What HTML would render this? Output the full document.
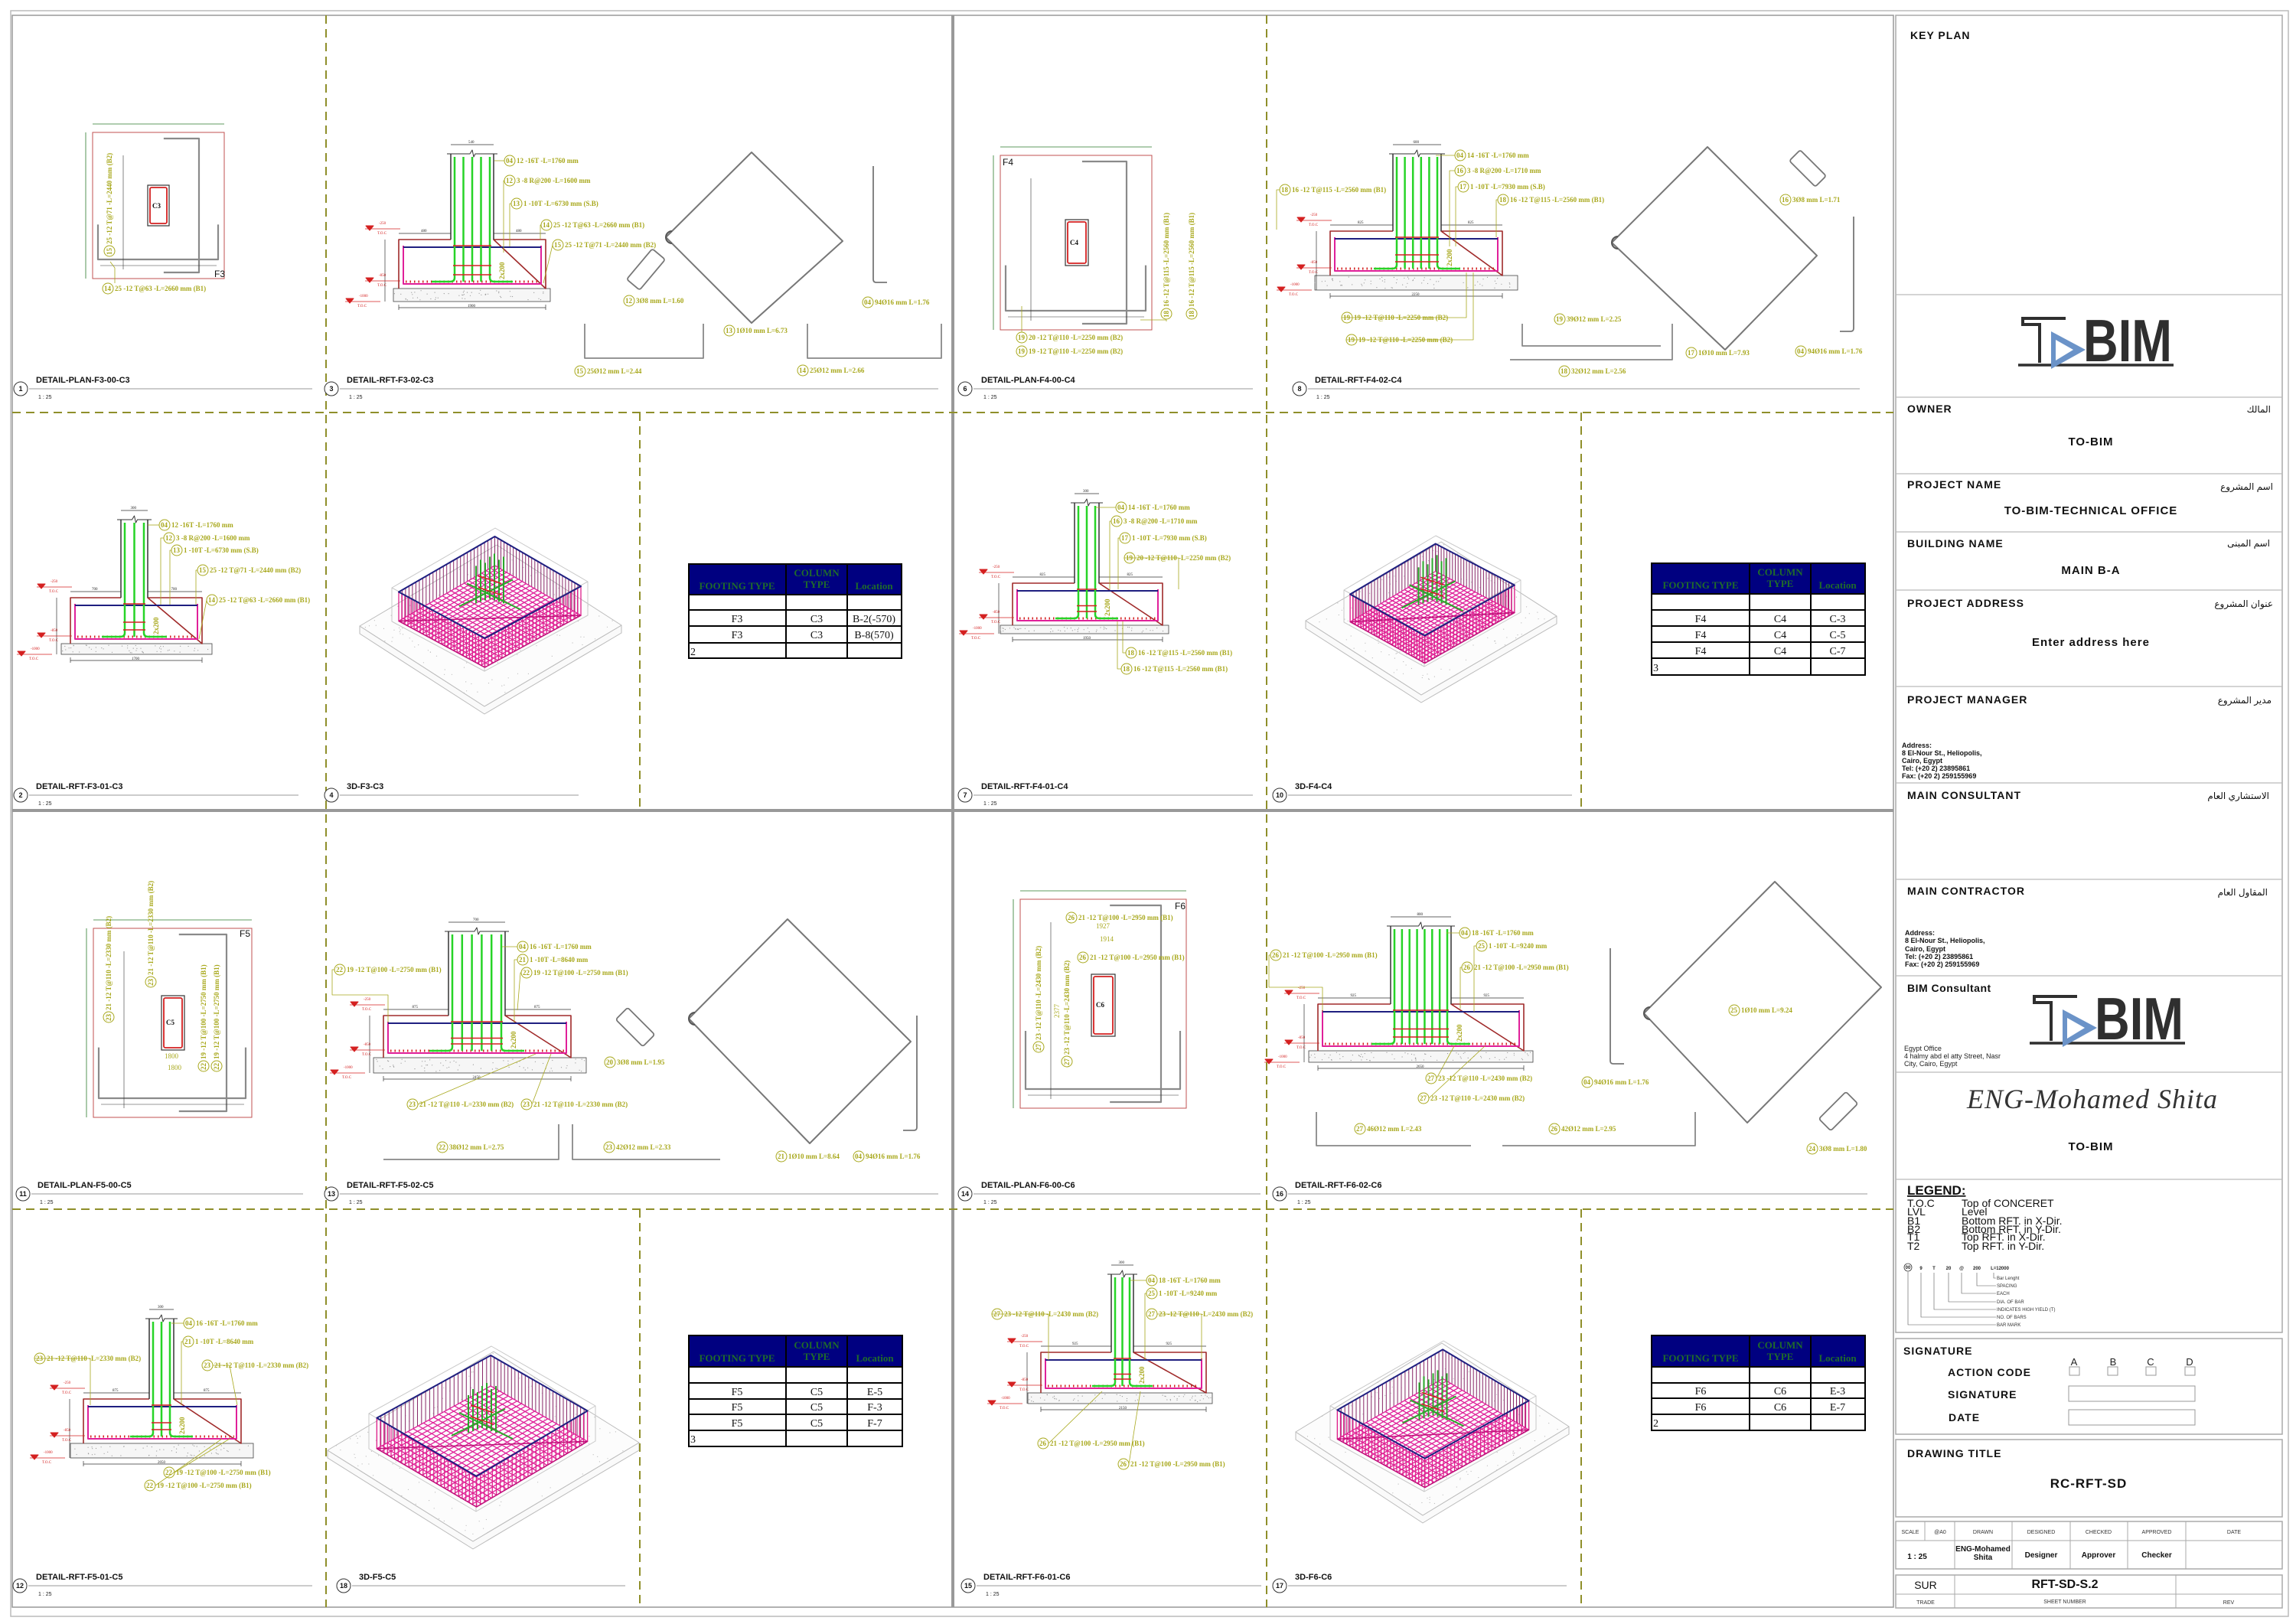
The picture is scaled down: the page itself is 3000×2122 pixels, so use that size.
<!DOCTYPE html>
<html><head><meta charset="utf-8">
<style>
html,body{margin:0;padding:0;background:#fff;}
svg{display:block;}
.lb circle{fill:none;stroke:#a8a81c;stroke-width:1}
.lb text{font:bold 9px "Liberation Serif",serif;fill:#a8a81c}
.pt{font:bold 11px "Liberation Sans",sans-serif;fill:#111}
.pn{font:bold 9px "Liberation Sans",sans-serif;fill:#111}
.sc{font:7px "Liberation Sans",sans-serif;fill:#222}
.th{font:bold 13px "Liberation Serif",serif;fill:#1f6b2a}
.td{font:14px "Liberation Serif",serif;fill:#111}
.h{font:bold 14px "Liberation Sans",sans-serif;fill:#111;letter-spacing:1px}
.ar{font:12px "Liberation Sans","DejaVu Sans",sans-serif;fill:#111}
.v{font:bold 15px "Liberation Sans",sans-serif;fill:#111;letter-spacing:1px}
.ad{font:bold 9px "Liberation Sans",sans-serif;fill:#111}
.lg{font:14px "Liberation Sans",sans-serif;fill:#111}
.tiny{font:6px "Liberation Sans",sans-serif;fill:#333}
.sm{font:8px "Liberation Sans",sans-serif;fill:#444}
.dm{font:5px "Liberation Serif",serif;fill:#222}
.ck{font:bold 9px "Liberation Serif",serif;fill:#111}
</style></head><body>
<svg id="S" width="3000" height="2122" viewBox="0 0 3000 2122" xmlns="http://www.w3.org/2000/svg">
<rect width="3000" height="2122" fill="#fff"/>
<!-- frames -->
<rect x="14" y="14" width="2976" height="2098" fill="none" stroke="#bbb" stroke-width="1.5"/>
<rect x="16" y="20" width="2458" height="2080" fill="none" stroke="#999" stroke-width="1.5"/>
<g id="geo"></g>
<!-- main divisions -->
<line x1="1245" y1="20" x2="1245" y2="2100" stroke="#999" stroke-width="4"/>
<line x1="16" y1="1059" x2="2474" y2="1059" stroke="#999" stroke-width="4"/>
<g stroke="#8f8f2a" stroke-width="2" stroke-dasharray="11 7" fill="none">
<line x1="426" y1="20" x2="426" y2="2100"/>
<line x1="1655" y1="20" x2="1655" y2="2100"/>
<line x1="16" y1="539" x2="2474" y2="539"/>
<line x1="16" y1="1580" x2="2474" y2="1580"/>
<line x1="836" y1="539" x2="836" y2="1058"/>
<line x1="836" y1="1580" x2="836" y2="2100"/>
<line x1="2066" y1="539" x2="2066" y2="1058"/>
<line x1="2066" y1="1580" x2="2066" y2="2100"/>
</g>

<!-- panel titles -->
<g>
<g stroke="#999" stroke-width="1"><line x1="38" y1="508" x2="408" y2="508"/><line x1="444" y1="508" x2="1226" y2="508"/><line x1="38" y1="1039" x2="390" y2="1039"/><line x1="444" y1="1039" x2="756" y2="1039"/>
<line x1="1272" y1="508" x2="1637" y2="508"/><line x1="1709" y1="508" x2="2430" y2="508"/><line x1="1272" y1="1039" x2="1637" y2="1039"/><line x1="1683" y1="1039" x2="2054" y2="1039"/>
<line x1="41" y1="1560" x2="396" y2="1560"/><line x1="444" y1="1560" x2="1226" y2="1560"/><line x1="37" y1="2072" x2="408" y2="2072"/><line x1="460" y1="2072" x2="817" y2="2072"/>
<line x1="1272" y1="1560" x2="1647" y2="1560"/><line x1="1683" y1="1560" x2="2440" y2="1560"/><line x1="1276" y1="2072" x2="1648" y2="2072"/><line x1="1683" y1="2072" x2="2047" y2="2072"/></g>
<g fill="#fff" stroke="#333" stroke-width="1"><circle cx="27" cy="508" r="9"/><circle cx="433" cy="508" r="9"/><circle cx="27" cy="1039" r="9"/><circle cx="433" cy="1039" r="9"/><circle cx="1261" cy="508" r="9"/><circle cx="1698" cy="508" r="9"/><circle cx="1261" cy="1039" r="9"/><circle cx="1672" cy="1039" r="9"/><circle cx="30" cy="1560" r="9"/><circle cx="433" cy="1560" r="9"/><circle cx="26" cy="2072" r="9"/><circle cx="449" cy="2072" r="9"/><circle cx="1261" cy="1560" r="9"/><circle cx="1672" cy="1560" r="9"/><circle cx="1265" cy="2072" r="9"/><circle cx="1672" cy="2072" r="9"/></g>
<g class="pn" text-anchor="middle"><text x="27" y="511">1</text><text x="433" y="511">3</text><text x="27" y="1042">2</text><text x="433" y="1042">4</text><text x="1261" y="511">6</text><text x="1698" y="511">8</text><text x="1261" y="1042">7</text><text x="1672" y="1042">10</text><text x="30" y="1563">11</text><text x="433" y="1563">13</text><text x="26" y="2075">12</text><text x="449" y="2075">18</text><text x="1261" y="1563">14</text><text x="1672" y="1563">16</text><text x="1265" y="2075">15</text><text x="1672" y="2075">17</text></g>
<g class="pt"><text x="47" y="500">DETAIL-PLAN-F3-00-C3</text><text x="453" y="500">DETAIL-RFT-F3-02-C3</text><text x="47" y="1031">DETAIL-RFT-F3-01-C3</text><text x="453" y="1031">3D-F3-C3</text>
<text x="1282" y="500">DETAIL-PLAN-F4-00-C4</text><text x="1718" y="500">DETAIL-RFT-F4-02-C4</text><text x="1282" y="1031">DETAIL-RFT-F4-01-C4</text><text x="1692" y="1031">3D-F4-C4</text>
<text x="49" y="1552">DETAIL-PLAN-F5-00-C5</text><text x="453" y="1552">DETAIL-RFT-F5-02-C5</text><text x="47" y="2064">DETAIL-RFT-F5-01-C5</text><text x="469" y="2064">3D-F5-C5</text>
<text x="1282" y="1552">DETAIL-PLAN-F6-00-C6</text><text x="1692" y="1552">DETAIL-RFT-F6-02-C6</text><text x="1285" y="2064">DETAIL-RFT-F6-01-C6</text><text x="1692" y="2064">3D-F6-C6</text></g>
<g class="sc"><text x="50" y="521">1 : 25</text><text x="456" y="521">1 : 25</text><text x="50" y="1052">1 : 25</text><text x="1285" y="521">1 : 25</text><text x="1720" y="521">1 : 25</text><text x="1285" y="1052">1 : 25</text><text x="52" y="1573">1 : 25</text><text x="456" y="1573">1 : 25</text><text x="50" y="2085">1 : 25</text><text x="1285" y="1573">1 : 25</text><text x="1695" y="1573">1 : 25</text><text x="1288" y="2085">1 : 25</text></g>
</g>

<!-- plan labels -->
<g class="pt" style="font-weight:normal;font-size:12px"><text x="280" y="362">F3</text><text x="1310" y="216">F4</text><text x="313" y="1224">F5</text><text x="1535" y="1188">F6</text></g>
<g class="ck"><text x="199" y="272">C3</text><text x="1398" y="320">C4</text><text x="217" y="1339">C5</text><text x="1432" y="1316">C6</text></g>
<g style="font:9px 'Liberation Serif',serif;fill:#a8a81c"><text x="215" y="1383">1800</text><text x="219" y="1398">1800</text><text x="1432" y="1213">1927</text><text x="1437" y="1230">1914</text><text transform="translate(1384,1330) rotate(-90)">2377</text></g>

<!-- labels -->
<g class="lb">
<!-- panel 1 -->
<g transform="translate(141,377)"><circle r="7"/><text x="-5" y="3">14</text><text x="9" y="3">25 -12 T@63 -L=2660 mm (B1)</text></g>
<g transform="translate(143,328) rotate(-90)"><circle r="7"/><text x="-5" y="3">15</text><text x="9" y="3">25 -12 T@71 -L=2440 mm (B2)</text></g>
<!-- panel 3 -->
<g transform="translate(666,210)"><circle r="7"/><text x="-5" y="3">04</text><text x="9" y="3">12 -16T -L=1760 mm</text></g>
<g transform="translate(666,236)"><circle r="7"/><text x="-5" y="3">12</text><text x="9" y="3">3 -8 R@200 -L=1600 mm</text></g>
<g transform="translate(675,266)"><circle r="7"/><text x="-5" y="3">13</text><text x="9" y="3">1 -10T -L=6730 mm (S.B)</text></g>
<g transform="translate(714,294)"><circle r="7"/><text x="-5" y="3">14</text><text x="9" y="3">25 -12 T@63 -L=2660 mm (B1)</text></g>
<g transform="translate(729,320)"><circle r="7"/><text x="-5" y="3">15</text><text x="9" y="3">25 -12 T@71 -L=2440 mm (B2)</text></g>
<g transform="translate(822,393)"><circle r="7"/><text x="-5" y="3">12</text><text x="9" y="3">3Ø8 mm L=1.60</text></g>
<g transform="translate(953,432)"><circle r="7"/><text x="-5" y="3">13</text><text x="9" y="3">1Ø10 mm L=6.73</text></g>
<g transform="translate(1134,395)"><circle r="7"/><text x="-5" y="3">04</text><text x="9" y="3">94Ø16 mm L=1.76</text></g>
<g transform="translate(758,485)"><circle r="7"/><text x="-5" y="3">15</text><text x="9" y="3">25Ø12 mm L=2.44</text></g>
<g transform="translate(1049,484)"><circle r="7"/><text x="-5" y="3">14</text><text x="9" y="3">25Ø12 mm L=2.66</text></g>
<!-- panel 2 -->
<g transform="translate(215,686)"><circle r="7"/><text x="-5" y="3">04</text><text x="9" y="3">12 -16T -L=1760 mm</text></g>
<g transform="translate(221,703)"><circle r="7"/><text x="-5" y="3">12</text><text x="9" y="3">3 -8 R@200 -L=1600 mm</text></g>
<g transform="translate(231,719)"><circle r="7"/><text x="-5" y="3">13</text><text x="9" y="3">1 -10T -L=6730 mm (S.B)</text></g>
<g transform="translate(265,745)"><circle r="7"/><text x="-5" y="3">15</text><text x="9" y="3">25 -12 T@71 -L=2440 mm (B2)</text></g>
<g transform="translate(277,784)"><circle r="7"/><text x="-5" y="3">14</text><text x="9" y="3">25 -12 T@63 -L=2660 mm (B1)</text></g>
<!-- panel 6 -->
<g transform="translate(1335,441)"><circle r="7"/><text x="-5" y="3">19</text><text x="9" y="3">20 -12 T@110 -L=2250 mm (B2)</text></g>
<g transform="translate(1335,459)"><circle r="7"/><text x="-5" y="3">19</text><text x="9" y="3">19 -12 T@110 -L=2250 mm (B2)</text></g>
<g transform="translate(1524,410) rotate(-90)"><circle r="7"/><text x="-5" y="3">18</text><text x="9" y="3">16 -12 T@115 -L=2560 mm (B1)</text></g>
<g transform="translate(1557,410) rotate(-90)"><circle r="7"/><text x="-5" y="3">18</text><text x="9" y="3">16 -12 T@115 -L=2560 mm (B1)</text></g>
<!-- panel 8 -->
<g transform="translate(1908,203)"><circle r="7"/><text x="-5" y="3">04</text><text x="9" y="3">14 -16T -L=1760 mm</text></g>
<g transform="translate(1908,223)"><circle r="7"/><text x="-5" y="3">16</text><text x="9" y="3">3 -8 R@200 -L=1710 mm</text></g>
<g transform="translate(1912,244)"><circle r="7"/><text x="-5" y="3">17</text><text x="9" y="3">1 -10T -L=7930 mm (S.B)</text></g>
<g transform="translate(1964,261)"><circle r="7"/><text x="-5" y="3">18</text><text x="9" y="3">16 -12 T@115 -L=2560 mm (B1)</text></g>
<g transform="translate(1679,248)"><circle r="7"/><text x="-5" y="3">18</text><text x="9" y="3">16 -12 T@115 -L=2560 mm (B1)</text></g>
<g transform="translate(1760,415)"><circle r="7"/><text x="-5" y="3">19</text><text x="9" y="3">19 -12 T@110 -L=2250 mm (B2)</text></g>
<g transform="translate(1766,444)"><circle r="7"/><text x="-5" y="3">19</text><text x="9" y="3">19 -12 T@110 -L=2250 mm (B2)</text></g>
<g transform="translate(2210,461)"><circle r="7"/><text x="-5" y="3">17</text><text x="9" y="3">1Ø10 mm L=7.93</text></g>
<g transform="translate(2333,261)"><circle r="7"/><text x="-5" y="3">16</text><text x="9" y="3">3Ø8 mm L=1.71</text></g>
<g transform="translate(2353,459)"><circle r="7"/><text x="-5" y="3">04</text><text x="9" y="3">94Ø16 mm L=1.76</text></g>
<g transform="translate(2038,417)"><circle r="7"/><text x="-5" y="3">19</text><text x="9" y="3">39Ø12 mm L=2.25</text></g>
<g transform="translate(2044,485)"><circle r="7"/><text x="-5" y="3">18</text><text x="9" y="3">32Ø12 mm L=2.56</text></g>
<!-- panel 7 -->
<g transform="translate(1465,663)"><circle r="7"/><text x="-5" y="3">04</text><text x="9" y="3">14 -16T -L=1760 mm</text></g>
<g transform="translate(1459,681)"><circle r="7"/><text x="-5" y="3">16</text><text x="9" y="3">3 -8 R@200 -L=1710 mm</text></g>
<g transform="translate(1470,703)"><circle r="7"/><text x="-5" y="3">17</text><text x="9" y="3">1 -10T -L=7930 mm (S.B)</text></g>
<g transform="translate(1476,729)"><circle r="7"/><text x="-5" y="3">19</text><text x="9" y="3">20 -12 T@110 -L=2250 mm (B2)</text></g>
<g transform="translate(1478,853)"><circle r="7"/><text x="-5" y="3">18</text><text x="9" y="3">16 -12 T@115 -L=2560 mm (B1)</text></g>
<g transform="translate(1472,874)"><circle r="7"/><text x="-5" y="3">18</text><text x="9" y="3">16 -12 T@115 -L=2560 mm (B1)</text></g>
<!-- panel 11 -->
<g transform="translate(142,1329) rotate(-90)"><circle r="7"/><text x="-5" y="3">23</text><text x="9" y="3">21 -12 T@110 -L=2330 mm (B2)</text></g>
<g transform="translate(197,1283) rotate(-90)"><circle r="7"/><text x="-5" y="3">23</text><text x="9" y="3">21 -12 T@110 -L=2330 mm (B2)</text></g>
<g transform="translate(266,1393) rotate(-90)"><circle r="7"/><text x="-5" y="3">22</text><text x="9" y="3">19 -12 T@100 -L=2750 mm (B1)</text></g>
<g transform="translate(283,1393) rotate(-90)"><circle r="7"/><text x="-5" y="3">22</text><text x="9" y="3">19 -12 T@100 -L=2750 mm (B1)</text></g>
<!-- panel 13 -->
<g transform="translate(683,1237)"><circle r="7"/><text x="-5" y="3">04</text><text x="9" y="3">16 -16T -L=1760 mm</text></g>
<g transform="translate(683,1254)"><circle r="7"/><text x="-5" y="3">21</text><text x="9" y="3">1 -10T -L=8640 mm</text></g>
<g transform="translate(688,1271)"><circle r="7"/><text x="-5" y="3">22</text><text x="9" y="3">19 -12 T@100 -L=2750 mm (B1)</text></g>
<g transform="translate(444,1267)"><circle r="7"/><text x="-5" y="3">22</text><text x="9" y="3">19 -12 T@100 -L=2750 mm (B1)</text></g>
<g transform="translate(539,1443)"><circle r="7"/><text x="-5" y="3">23</text><text x="9" y="3">21 -12 T@110 -L=2330 mm (B2)</text></g>
<g transform="translate(688,1443)"><circle r="7"/><text x="-5" y="3">23</text><text x="9" y="3">21 -12 T@110 -L=2330 mm (B2)</text></g>
<g transform="translate(1021,1511)"><circle r="7"/><text x="-5" y="3">21</text><text x="9" y="3">1Ø10 mm L=8.64</text></g>
<g transform="translate(1122,1511)"><circle r="7"/><text x="-5" y="3">04</text><text x="9" y="3">94Ø16 mm L=1.76</text></g>
<g transform="translate(797,1388)"><circle r="7"/><text x="-5" y="3">20</text><text x="9" y="3">3Ø8 mm L=1.95</text></g>
<g transform="translate(578,1499)"><circle r="7"/><text x="-5" y="3">22</text><text x="9" y="3">38Ø12 mm L=2.75</text></g>
<g transform="translate(796,1499)"><circle r="7"/><text x="-5" y="3">23</text><text x="9" y="3">42Ø12 mm L=2.33</text></g>
<!-- panel 12 -->
<g transform="translate(247,1729)"><circle r="7"/><text x="-5" y="3">04</text><text x="9" y="3">16 -16T -L=1760 mm</text></g>
<g transform="translate(246,1753)"><circle r="7"/><text x="-5" y="3">21</text><text x="9" y="3">1 -10T -L=8640 mm</text></g>
<g transform="translate(52,1775)"><circle r="7"/><text x="-5" y="3">23</text><text x="9" y="3">21 -12 T@110 -L=2330 mm (B2)</text></g>
<g transform="translate(271,1784)"><circle r="7"/><text x="-5" y="3">23</text><text x="9" y="3">21 -12 T@110 -L=2330 mm (B2)</text></g>
<g transform="translate(221,1924)"><circle r="7"/><text x="-5" y="3">22</text><text x="9" y="3">19 -12 T@100 -L=2750 mm (B1)</text></g>
<g transform="translate(196,1941)"><circle r="7"/><text x="-5" y="3">22</text><text x="9" y="3">19 -12 T@100 -L=2750 mm (B1)</text></g>
<!-- panel 14 -->
<g transform="translate(1400,1199)"><circle r="7"/><text x="-5" y="3">26</text><text x="9" y="3">21 -12 T@100 -L=2950 mm (B1)</text></g>
<g transform="translate(1415,1251)"><circle r="7"/><text x="-5" y="3">26</text><text x="9" y="3">21 -12 T@100 -L=2950 mm (B1)</text></g>
<g transform="translate(1357,1368) rotate(-90)"><circle r="7"/><text x="-5" y="3">27</text><text x="9" y="3">23 -12 T@110 -L=2430 mm (B2)</text></g>
<g transform="translate(1394,1387) rotate(-90)"><circle r="7"/><text x="-5" y="3">27</text><text x="9" y="3">23 -12 T@110 -L=2430 mm (B2)</text></g>
<!-- panel 16 -->
<g transform="translate(1914,1219)"><circle r="7"/><text x="-5" y="3">04</text><text x="9" y="3">18 -16T -L=1760 mm</text></g>
<g transform="translate(1936,1236)"><circle r="7"/><text x="-5" y="3">25</text><text x="9" y="3">1 -10T -L=9240 mm</text></g>
<g transform="translate(1917,1264)"><circle r="7"/><text x="-5" y="3">26</text><text x="9" y="3">21 -12 T@100 -L=2950 mm (B1)</text></g>
<g transform="translate(1667,1248)"><circle r="7"/><text x="-5" y="3">26</text><text x="9" y="3">21 -12 T@100 -L=2950 mm (B1)</text></g>
<g transform="translate(1870,1409)"><circle r="7"/><text x="-5" y="3">27</text><text x="9" y="3">23 -12 T@110 -L=2430 mm (B2)</text></g>
<g transform="translate(1860,1435)"><circle r="7"/><text x="-5" y="3">27</text><text x="9" y="3">23 -12 T@110 -L=2430 mm (B2)</text></g>
<g transform="translate(2266,1320)"><circle r="7"/><text x="-5" y="3">25</text><text x="9" y="3">1Ø10 mm L=9.24</text></g>
<g transform="translate(2074,1414)"><circle r="7"/><text x="-5" y="3">04</text><text x="9" y="3">94Ø16 mm L=1.76</text></g>
<g transform="translate(2368,1501)"><circle r="7"/><text x="-5" y="3">24</text><text x="9" y="3">3Ø8 mm L=1.80</text></g>
<g transform="translate(1777,1475)"><circle r="7"/><text x="-5" y="3">27</text><text x="9" y="3">46Ø12 mm L=2.43</text></g>
<g transform="translate(2031,1475)"><circle r="7"/><text x="-5" y="3">26</text><text x="9" y="3">42Ø12 mm L=2.95</text></g>
<!-- panel 15 -->
<g transform="translate(1505,1673)"><circle r="7"/><text x="-5" y="3">04</text><text x="9" y="3">18 -16T -L=1760 mm</text></g>
<g transform="translate(1505,1690)"><circle r="7"/><text x="-5" y="3">25</text><text x="9" y="3">1 -10T -L=9240 mm</text></g>
<g transform="translate(1303,1717)"><circle r="7"/><text x="-5" y="3">27</text><text x="9" y="3">23 -12 T@110 -L=2430 mm (B2)</text></g>
<g transform="translate(1505,1717)"><circle r="7"/><text x="-5" y="3">27</text><text x="9" y="3">23 -12 T@110 -L=2430 mm (B2)</text></g>
<g transform="translate(1363,1886)"><circle r="7"/><text x="-5" y="3">26</text><text x="9" y="3">21 -12 T@100 -L=2950 mm (B1)</text></g>
<g transform="translate(1468,1913)"><circle r="7"/><text x="-5" y="3">26</text><text x="9" y="3">21 -12 T@100 -L=2950 mm (B1)</text></g>
</g>

<!-- tables -->
<g>
<g id="tb1"><rect x="900" y="737" width="278" height="40" fill="#000080"/>
<g fill="none" stroke="#000" stroke-width="2"><rect x="900" y="737" width="278" height="123"/><line x1="900" y1="777" x2="1178" y2="777"/><line x1="900" y1="797" x2="1178" y2="797"/><line x1="900" y1="818" x2="1178" y2="818"/><line x1="900" y1="840" x2="1178" y2="840"/><line x1="1027" y1="737" x2="1027" y2="860"/><line x1="1107" y1="737" x2="1107" y2="860"/></g>
<g class="th" text-anchor="middle"><text x="963" y="770">FOOTING TYPE</text><text x="1067" y="753">COLUMN</text><text x="1067" y="768">TYPE</text><text x="1142" y="770">Location</text></g>
<g class="td" text-anchor="middle"><text x="963" y="813">F3</text><text x="1067" y="813">C3</text><text x="1142" y="813">B-2(-570)</text><text x="963" y="834">F3</text><text x="1067" y="834">C3</text><text x="1142" y="834">B-8(570)</text></g><text class="td" x="902" y="856">2</text></g>

<g><rect x="2158" y="736" width="279" height="40" fill="#000080"/>
<g fill="none" stroke="#000" stroke-width="2"><rect x="2158" y="736" width="279" height="146"/><line x1="2158" y1="776" x2="2437" y2="776"/><line x1="2158" y1="797" x2="2437" y2="797"/><line x1="2158" y1="818" x2="2437" y2="818"/><line x1="2158" y1="839" x2="2437" y2="839"/><line x1="2158" y1="860" x2="2437" y2="860"/><line x1="2286" y1="736" x2="2286" y2="882"/><line x1="2366" y1="736" x2="2366" y2="882"/></g>
<g class="th" text-anchor="middle"><text x="2222" y="769">FOOTING TYPE</text><text x="2326" y="752">COLUMN</text><text x="2326" y="767">TYPE</text><text x="2401" y="769">Location</text></g>
<g class="td" text-anchor="middle"><text x="2222" y="813">F4</text><text x="2326" y="813">C4</text><text x="2401" y="813">C-3</text><text x="2222" y="834">F4</text><text x="2326" y="834">C4</text><text x="2401" y="834">C-5</text><text x="2222" y="855">F4</text><text x="2326" y="855">C4</text><text x="2401" y="855">C-7</text></g><text class="td" x="2160" y="877">3</text></g>

<g><rect x="900" y="1745" width="279" height="41" fill="#000080"/>
<g fill="none" stroke="#000" stroke-width="2"><rect x="900" y="1745" width="279" height="145"/><line x1="900" y1="1786" x2="1179" y2="1786"/><line x1="900" y1="1807" x2="1179" y2="1807"/><line x1="900" y1="1828" x2="1179" y2="1828"/><line x1="900" y1="1848" x2="1179" y2="1848"/><line x1="900" y1="1869" x2="1179" y2="1869"/><line x1="1027" y1="1745" x2="1027" y2="1890"/><line x1="1107" y1="1745" x2="1107" y2="1890"/></g>
<g class="th" text-anchor="middle"><text x="963" y="1779">FOOTING TYPE</text><text x="1067" y="1762">COLUMN</text><text x="1067" y="1777">TYPE</text><text x="1143" y="1779">Location</text></g>
<g class="td" text-anchor="middle"><text x="963" y="1823">F5</text><text x="1067" y="1823">C5</text><text x="1143" y="1823">E-5</text><text x="963" y="1843">F5</text><text x="1067" y="1843">C5</text><text x="1143" y="1843">F-3</text><text x="963" y="1864">F5</text><text x="1067" y="1864">C5</text><text x="1143" y="1864">F-7</text></g><text class="td" x="902" y="1885">3</text></g>

<g><rect x="2158" y="1745" width="279" height="41" fill="#000080"/>
<g fill="none" stroke="#000" stroke-width="2"><rect x="2158" y="1745" width="279" height="124"/><line x1="2158" y1="1786" x2="2437" y2="1786"/><line x1="2158" y1="1807" x2="2437" y2="1807"/><line x1="2158" y1="1827" x2="2437" y2="1827"/><line x1="2158" y1="1848" x2="2437" y2="1848"/><line x1="2286" y1="1745" x2="2286" y2="1869"/><line x1="2366" y1="1745" x2="2366" y2="1869"/></g>
<g class="th" text-anchor="middle"><text x="2222" y="1779">FOOTING TYPE</text><text x="2326" y="1762">COLUMN</text><text x="2326" y="1777">TYPE</text><text x="2401" y="1779">Location</text></g>
<g class="td" text-anchor="middle"><text x="2222" y="1822">F6</text><text x="2326" y="1822">C6</text><text x="2401" y="1822">E-3</text><text x="2222" y="1843">F6</text><text x="2326" y="1843">C6</text><text x="2401" y="1843">E-7</text></g><text class="td" x="2160" y="1864">2</text></g>
</g>

<!-- TITLE BLOCK -->
<g>
<rect x="2477" y="20" width="505" height="1721" fill="none" stroke="#aaa" stroke-width="1.5"/>
<g stroke="#bbb" stroke-width="1.2"><line x1="2477" y1="385" x2="2982" y2="385"/><line x1="2477" y1="519" x2="2982" y2="519"/><line x1="2477" y1="619" x2="2982" y2="619"/><line x1="2477" y1="695" x2="2982" y2="695"/><line x1="2477" y1="771" x2="2982" y2="771"/><line x1="2477" y1="897" x2="2982" y2="897"/><line x1="2477" y1="1023" x2="2982" y2="1023"/><line x1="2477" y1="1149" x2="2982" y2="1149"/><line x1="2477" y1="1275" x2="2982" y2="1275"/><line x1="2477" y1="1401" x2="2982" y2="1401"/><line x1="2477" y1="1541" x2="2982" y2="1541"/></g>
<g fill="none" stroke="#aaa" stroke-width="1.5"><rect x="2477" y="1749" width="505" height="125"/><rect x="2477" y="1881" width="505" height="101"/><rect x="2477" y="1988" width="505" height="62"/><rect x="2477" y="2058" width="505" height="43"/></g>
<g stroke="#aaa" stroke-width="1"><line x1="2477" y1="2013" x2="2982" y2="2013"/><line x1="2515" y1="1988" x2="2515" y2="2013"/><line x1="2554" y1="1988" x2="2554" y2="2050"/><line x1="2629" y1="1988" x2="2629" y2="2050"/><line x1="2705" y1="1988" x2="2705" y2="2050"/><line x1="2780" y1="1988" x2="2780" y2="2050"/><line x1="2856" y1="1988" x2="2856" y2="2050"/>
<line x1="2477" y1="2083" x2="2982" y2="2083"/><line x1="2554" y1="2058" x2="2554" y2="2101"/><line x1="2843" y1="2058" x2="2843" y2="2101"/></g>

<text class="h" x="2496" y="51">KEY PLAN</text>
<g id="logo">
<g stroke="#2f2f2f" stroke-width="4" fill="none"><polyline points="2641,416 2699,416"/><polyline points="2643,416 2643,424 2665,424 2665,474"/><line x1="2637" y1="477" x2="2840" y2="477" stroke-width="3.5"/></g>
<polygon points="2680,433 2680,482 2725,457" fill="#6b93c8"/>
<polygon points="2686,444 2686,471 2709,457" fill="#fff"/>
<text x="2722" y="472" style="font:bold 78px 'Liberation Sans',sans-serif;fill:#2f2f2f" textLength="116" lengthAdjust="spacingAndGlyphs">BIM</text>
</g>
<use href="#logo" transform="translate(15,886)"/>

<text class="h" x="2492" y="539">OWNER</text><text class="ar" x="2967" y="539" text-anchor="end">المالك</text>
<text class="v" x="2732" y="582" text-anchor="middle">TO-BIM</text>
<text class="h" x="2492" y="638">PROJECT NAME</text><text class="ar" x="2970" y="640" text-anchor="end">اسم المشروع</text>
<text class="v" x="2732" y="672" text-anchor="middle">TO-BIM-TECHNICAL OFFICE</text>
<text class="h" x="2492" y="715">BUILDING NAME</text><text class="ar" x="2966" y="714" text-anchor="end">اسم المبنى</text>
<text class="v" x="2732" y="750" text-anchor="middle">MAIN B-A</text>
<text class="h" x="2492" y="793">PROJECT ADDRESS</text><text class="ar" x="2970" y="793" text-anchor="end">عنوان المشروع</text>
<text class="v" x="2732" y="844" text-anchor="middle">Enter address here</text>
<text class="h" x="2492" y="919">PROJECT MANAGER</text><text class="ar" x="2968" y="919" text-anchor="end">مدير المشروع</text>
<g class="ad"><text x="2485" y="977">Address:</text><text x="2485" y="987">8 El-Nour St., Heliopolis,</text><text x="2485" y="997">Cairo, Egypt</text><text x="2485" y="1007">Tel: (+20 2) 23895861</text><text x="2485" y="1017">Fax: (+20 2) 259155969</text></g>
<text class="h" x="2492" y="1044">MAIN CONSULTANT</text><text class="ar" x="2965" y="1044" text-anchor="end">الاستشاري العام</text>
<text class="h" x="2492" y="1169">MAIN CONTRACTOR</text><text class="ar" x="2963" y="1170" text-anchor="end">المقاول العام</text>
<g class="ad"><text x="2489" y="1222">Address:</text><text x="2489" y="1232">8 El-Nour St., Heliopolis,</text><text x="2489" y="1243">Cairo, Egypt</text><text x="2489" y="1253">Tel: (+20 2) 23895861</text><text x="2489" y="1263">Fax: (+20 2) 259155969</text></g>
<text class="h" x="2492" y="1296" style="letter-spacing:0.5px">BIM Consultant</text>
<g style="font:9px 'Liberation Sans',sans-serif;fill:#222"><text x="2488" y="1373">Egypt Office</text><text x="2488" y="1383">4 halmy abd el atty Street, Nasr</text><text x="2488" y="1393">City, Cairo, Egypt</text></g>
<text x="2734" y="1448" text-anchor="middle" style="font:italic 36px 'Liberation Serif',serif;fill:#333;letter-spacing:1px">ENG-Mohamed Shita</text>
<text class="v" x="2732" y="1503" text-anchor="middle">TO-BIM</text>

<text x="2492" y="1561" style="font:bold 17px 'Liberation Sans',sans-serif;fill:#111;text-decoration:underline">LEGEND:</text>
<line x1="2492" y1="1563" x2="2556" y2="1563" stroke="#111" stroke-width="1.5"/>
<g class="lg"><text x="2492" y="1577">T.O.C</text><text x="2563" y="1577">Top of CONCERET</text><text x="2492" y="1588">LVL</text><text x="2563" y="1588">Level</text><text x="2492" y="1600">B1</text><text x="2563" y="1600">Bottom RFT. in X-Dir.</text><text x="2492" y="1611">B2</text><text x="2563" y="1611">Bottom RFT. in Y-Dir.</text><text x="2492" y="1621">T1</text><text x="2563" y="1621">Top RFT. in X-Dir.</text><text x="2492" y="1633">T2</text><text x="2563" y="1633">Top RFT. in Y-Dir.</text></g>
<circle cx="2493" cy="1656" r="5" fill="none" stroke="#333" stroke-width="0.8"/>
<g style="font:bold 6px 'Liberation Sans',sans-serif;fill:#222" text-anchor="middle"><text x="2493" y="1658">00</text><text x="2510" y="1659">9</text><text x="2527" y="1659">T</text><text x="2546" y="1659">20</text><text x="2563" y="1659">@</text><text x="2583" y="1659">200</text><text x="2613" y="1659">L=12000</text></g>
<g fill="none" stroke="#555" stroke-width="0.6"><polyline points="2605,1663 2605,1670 2608,1670"/><polyline points="2583,1663 2583,1680 2608,1680"/><polyline points="2563,1663 2563,1690 2608,1690"/><polyline points="2546,1663 2546,1701 2608,1701"/><polyline points="2527,1663 2527,1711 2608,1711"/><polyline points="2510,1663 2510,1721 2608,1721"/><polyline points="2493,1662 2493,1731 2608,1731"/></g>
<g class="tiny"><text x="2609" y="1672">Bar Lenght</text><text x="2609" y="1682">SPACING</text><text x="2609" y="1692">EACH</text><text x="2609" y="1703">DIA. OF BAR</text><text x="2609" y="1713">INDICATES HIGH YIELD (T)</text><text x="2609" y="1723">NO. OF BARS</text><text x="2609" y="1733">BAR MARK</text></g>

<text class="h" x="2487" y="1770">SIGNATURE</text>
<text class="h" x="2545" y="1798">ACTION CODE</text><text class="h" x="2545" y="1827">SIGNATURE</text><text class="h" x="2546" y="1857">DATE</text>
<g style="font:13px 'Liberation Sans',sans-serif;fill:#222" text-anchor="middle"><text x="2710" y="1784">A</text><text x="2761" y="1784">B</text><text x="2810" y="1784">C</text><text x="2861" y="1784">D</text></g>
<g fill="none" stroke="#999" stroke-width="1"><rect x="2704" y="1786" width="13" height="11"/><rect x="2754" y="1786" width="13" height="11"/><rect x="2804" y="1786" width="13" height="11"/><rect x="2855" y="1786" width="13" height="11"/><rect x="2703" y="1811" width="165" height="20"/><rect x="2703" y="1842" width="165" height="20"/></g>

<text class="h" x="2492" y="1904">DRAWING TITLE</text>
<text class="v" x="2729" y="1944" text-anchor="middle" style="font-size:17px">RC-RFT-SD</text>
<g class="tiny" style="font-size:7px" text-anchor="middle"><text x="2496" y="2004">SCALE</text><text x="2535" y="2004">@A0</text><text x="2591" y="2004">DRAWN</text><text x="2667" y="2004">DESIGNED</text><text x="2742" y="2004">CHECKED</text><text x="2818" y="2004">APPROVED</text><text x="2919" y="2004">DATE</text></g>
<g style="font:bold 10px 'Liberation Sans',sans-serif;fill:#111" text-anchor="middle"><text x="2505" y="2037">1 : 25</text><text x="2591" y="2027">ENG-Mohamed</text><text x="2591" y="2038">Shita</text><text x="2667" y="2035">Designer</text><text x="2742" y="2035">Approver</text><text x="2818" y="2035">Checker</text></g>
<text x="2516" y="2076" text-anchor="middle" style="font:14px 'Liberation Sans',sans-serif;fill:#111">SUR</text>
<text x="2698" y="2075" text-anchor="middle" style="font:bold 16px 'Liberation Sans',sans-serif;fill:#111">RFT-SD-S.2</text>
<g class="tiny" style="font-size:7px" text-anchor="middle"><text x="2516" y="2096">TRADE</text><text x="2698" y="2095">SHEET NUMBER</text><text x="2912" y="2096">REV</text></g>
</g>
</svg>
<script>
(function(){
var b='';
function L(x1,y1,x2,y2,c,w,e){b+='<line x1="'+x1+'" y1="'+y1+'" x2="'+x2+'" y2="'+y2+'" stroke="'+c+'" stroke-width="'+(w||1)+'" '+(e||'')+'/>';}
function P(d,c,w,f,e){b+='<path d="'+d+'" stroke="'+c+'" stroke-width="'+(w||1)+'" fill="'+(f||'none')+'" stroke-linejoin="round" '+(e||'')+'/>';}
function T(x,y,s,c,cls,e){b+='<text x="'+x+'" y="'+y+'" class="'+(cls||'dm')+'" '+(c?'style="fill:'+c+'"':'')+' '+(e||'')+'>'+s+'</text>';}
var RED='#d42020',MAG='#e0209a',GRN='#27d427',BLU='#1f1f80',OL='#a8a81c',GR='#8a8a8a';
var rnd=(function(){var s=7;return function(){s=(s*9301+49297)%233280;return s/233280;};})();
function level(x,y,txt){P('M'+(x-5)+' '+(y-4)+'L'+(x+5)+' '+(y-4)+'L'+x+' '+(y+2)+'Z',RED,1,RED);L(x-6,y,x+40,y,RED,0.8);T(x+12,y-6,txt,RED);T(x+10,y+7,'T.O.C',RED);}
function section(o){
 var x1=o.x1,x2=o.x2,yt=o.yt,yb=o.yb,c1=o.c1,c2=o.c2;
 // blinding
 b+='<rect x="'+o.bl+'" y="'+yb+'" width="'+(o.br-o.bl)+'" height="'+(o.bb-yb)+'" fill="#f6f6f6" stroke="#444" stroke-width="0.8"/>';
 for(var i=0;i<(o.br-o.bl)/4;i++){var px=o.bl+rnd()*(o.br-o.bl),py=yb+2+rnd()*(o.bb-yb-4);b+='<circle cx="'+px.toFixed(1)+'" cy="'+py.toFixed(1)+'" r="0.6" fill="#999"/>';}
 // footing
 P('M'+x1+' '+yb+'L'+x1+' '+yt+'L'+c1+' '+yt+'M'+c2+' '+yt+'L'+x2+' '+yt+'L'+x2+' '+yb+'Z','#a02a2a',1.6);
 L(c1,yt,c1,o.ct,'#333',1.5);L(c2,yt,c2,o.ct,'#333',1.5);
 var m=(c1+c2)/2;P('M'+(c1-5)+' '+o.ct+'L'+(m-3)+' '+o.ct+'L'+(m)+' '+(o.ct-5)+'L'+(m+2)+' '+(o.ct+4)+'L'+(m+4)+' '+o.ct+'L'+(c2+5)+' '+o.ct,'#333',1);
 // cage
 var ix1=x1+6,ix2=x2-6,iy1=yt+10,iy2=yb-6;
 P('M'+ix1+' '+(iy1-2)+'L'+ix1+' '+iy2+'L'+ix2+' '+iy2+'L'+ix2+' '+(iy1-2),MAG,2);
 L(ix1,iy1,ix2,iy1,BLU,2);
 L(ix1+3,iy2-3,ix2-3,iy2-3,RED,3,'stroke-dasharray="1.5 4"');
 // column bars
 var n=o.n,s=(c2-c1-10)/(n-1);
 for(var k=0;k<n;k++){var bx=c1+5+k*s;
  if(k==0) P('M'+bx+' '+(o.ct+4)+'L'+bx+' '+(iy2-8)+'Q'+bx+' '+(iy2-3)+' '+(bx-6)+' '+(iy2-3)+'L'+(bx-30)+' '+(iy2-3),GRN,2.5);
  else if(k==n-1) P('M'+bx+' '+(o.ct+4)+'L'+bx+' '+(iy2-8)+'Q'+bx+' '+(iy2-3)+' '+(bx+6)+' '+(iy2-3)+'L'+(bx+30)+' '+(iy2-3),GRN,2.5);
  else L(bx,o.ct+4,bx,iy2-3,GRN,2.5);}
 L(c1+3,iy1-2,c2-3,iy1-2,RED,1.5);L(c1+3,(iy1+iy2)/2,c2-3,(iy1+iy2)/2,RED,1.5);L(c1+3,iy2-12,c2-3,iy2-12,RED,1.5);
 // dims
 L(x1,o.bb+8,x2,o.bb+8,'#333',0.7);L(x1,o.bb+4,x1,o.bb+11,'#333',0.7);L(x2,o.bb+4,x2,o.bb+11,'#333',0.7);
 L(x1,yt-8,c1,yt-8,'#333',0.7);L(c2,yt-8,x2,yt-8,'#333',0.7);
 L(c1,o.ct-12,c2,o.ct-12,'#333',0.7);
 L(x1-18,yt,x1-18,yb,'#333',0.7);L(x1-18,yb,x1-18,o.bb,'#333',0.7);
 T((x1+x2)/2-6,o.bb+7,o.w);T((x1+c1)/2-5,yt-10,o.s);T((c2+x2)/2-5,yt-10,o.s);T(m-5,o.ct-14,o.cw);
 b+='<text class="dm" transform="translate('+(c2+14)+','+(iy2-6)+') rotate(-90)" style="font-size:9px;fill:'+OL+';font-weight:bold">2x200</text>';
 level(x1-38,yt-14,'-250');level(x1-38,yb-10,'-850');level(x1-64,o.bb,'-1000');
 // leaders
 (o.ld||[]).forEach(function(p){P(p,OL,0.8);});
}
function iso(o){
 function add(a,bb){return [a[0]+bb[0],a[1]+bb[1]];}
 var sT=[o.sL[0]+o.sR[0]-o.sB[0],o.sL[1]+o.sR[1]-o.sB[1]],th=o.st||10;
 function poly(pts,c,w,f){b+='<polygon points="'+pts.map(function(p){return p[0].toFixed(1)+','+p[1].toFixed(1)}).join(' ')+'" stroke="'+c+'" stroke-width="'+(w||1)+'" fill="'+(f||'none')+'" stroke-linejoin="round"/>';}
 // slab
 poly([o.sL,o.sB,o.sR,[o.sR[0],o.sR[1]+th],[o.sB[0],o.sB[1]+th],[o.sL[0],o.sL[1]+th]],'#bbb',1,'#fafafa');
 poly([o.sL,sT,o.sR,o.sB],'#bbb',1,'#fcfcfc');
 for(var i=0;i<160;i++){var u=rnd(),v=rnd();var x=o.sL[0]+(sT[0]-o.sL[0])*u+(o.sB[0]-o.sL[0])*v,y=o.sL[1]+(sT[1]-o.sL[1])*u+(o.sB[1]-o.sL[1])*v;b+='<circle cx="'+x.toFixed(1)+'" cy="'+y.toFixed(1)+'" r="0.6" fill="#bbb"/>';}
 var h=o.h;
 var Lp=o.L,Tp=o.T,Rp=o.R,Bp=o.B;
 // box
 var d=[0,h+4];
 poly([Lp,Tp,Rp,add(Rp,d),add(Bp,d),add(Lp,d)],'#c8c8c8',1);
 L(Bp[0],Bp[1],Bp[0],Bp[1]+h+4,'#c8c8c8',1);L(Lp[0],Lp[1],Bp[0],Bp[1],'#c8c8c8',1);L(Bp[0],Bp[1],Rp[0],Rp[1],'#c8c8c8',1);
 // cage inset
 function lerp(a,c,t){return [a[0]+(c[0]-a[0])*t,a[1]+(c[1]-a[1])*t];}
 var cx=(Lp[0]+Rp[0])/2,cy=(Tp[1]+Bp[1])/2;
 function ins(p){return [cx+(p[0]-cx)*0.93,cy+(p[1]-cy)*0.93+6];}
 var a=ins(Lp),t=ins(Tp),r=ins(Rp),bt=ins(Bp),hh=h-2;
 function dn(p){return [p[0],p[1]+hh];}
 // back vertical bars
 var N=28;
 for(i=0;i<=N;i++){var p=lerp(a,t,i/N);L(p[0].toFixed(1),p[1].toFixed(1),p[0].toFixed(1),(p[1]+hh).toFixed(1),'#8a2a6a',1);p=lerp(t,r,i/N);L(p[0].toFixed(1),p[1].toFixed(1),p[0].toFixed(1),(p[1]+hh).toFixed(1),'#8a2a6a',1);}
 // bottom grid
 var M=22;
 for(i=0;i<=M;i++){var p1=dn(lerp(a,t,i/M)),p2=dn(lerp(bt,r,i/M));L(p1[0].toFixed(1),p1[1].toFixed(1),p2[0].toFixed(1),p2[1].toFixed(1),MAG,1.3);
  p1=dn(lerp(a,bt,i/M));p2=dn(lerp(t,r,i/M));L(p1[0].toFixed(1),p1[1].toFixed(1),p2[0].toFixed(1),p2[1].toFixed(1),MAG,1.3);}
 // green column bars
 var gc=[cx,cy+hh*0.55];
 for(i=-3;i<=3;i++){var gx=gc[0]+i*6,gy=gc[1]+Math.abs(i)*2;L(gx,gy-55-(i%2)*6,gx,gy,'#2aa82a',2);}
 P('M'+(gc[0]-40)+' '+(gc[1]+10)+'L'+(gc[0]+30)+' '+(gc[1]-25),'#2aa82a',2);P('M'+(gc[0]-30)+' '+(gc[1]-20)+'L'+(gc[0]+40)+' '+(gc[1]+14),'#2aa82a',2);
 L(gc[0]-15,gc[1]-30,gc[0]+15,gc[1]-20,RED,1.5);L(gc[0]-15,gc[1]-15,gc[0]+15,gc[1]-5,RED,1.5);
 // front vertical bars
 for(i=0;i<=N;i++){var p=lerp(a,bt,i/N);L(p[0].toFixed(1),p[1].toFixed(1),p[0].toFixed(1),(p[1]+hh).toFixed(1),'#e0208c',1.3);p=lerp(bt,r,i/N);L(p[0].toFixed(1),p[1].toFixed(1),p[0].toFixed(1),(p[1]+hh).toFixed(1),'#e0208c',1.3);}
 poly([dn(a),dn(bt),dn(r)],'#c0107a',1.5);
 poly([a,t,r,bt],BLU,2);
}
function diamond(T1,R1,B1,L1){b+='<polygon points="'+[T1,R1,B1,L1].map(function(p){return p.join(',')}).join(' ')+'" stroke="#777" stroke-width="2" fill="none" stroke-linejoin="round"/>';
 P('M'+(L1[0]+8)+' '+(L1[1]-8)+'a8 8 0 1 0 0 16','#555',2);}
function stir(cx,cy,w,h,ang){b+='<rect x="'+(cx-w/2)+'" y="'+(cy-h/2)+'" width="'+w+'" height="'+h+'" rx="3" stroke="#777" stroke-width="1.8" fill="none" transform="rotate('+ang+' '+cx+' '+cy+')"/>';}
function bar04(x,y1,y2,dir){P('M'+x+' '+y1+'L'+x+' '+(y2-4)+'Q'+x+' '+y2+' '+(x+4*dir)+' '+y2+'L'+(x+18*dir)+' '+y2,'#777',1.8);}
function plan(x1,y1,x2,y2,c){
 b+='<rect x="'+x1+'" y="'+y1+'" width="'+(x2-x1)+'" height="'+(y2-y1)+'" fill="none" stroke="#c05050" stroke-width="1"/>';
 L(x1,y1-11,x2,y1-11,'#2a7a2a',0.8);L(x1-9,y1,x1-9,y2,'#2a7a2a',0.8);
 b+='<rect x="'+c[0]+'" y="'+c[1]+'" width="'+(c[2]-c[0])+'" height="'+(c[3]-c[1])+'" fill="#fff" stroke="#333" stroke-width="1.2"/>';
 b+='<rect x="'+(c[0]+3)+'" y="'+(c[1]+3)+'" width="'+(c[2]-c[0]-6)+'" height="'+(c[3]-c[1]-6)+'" rx="2" fill="none" stroke="'+RED+'" stroke-width="1.8"/>';
 var w=x2-x1,h=y2-y1;
 P('M'+(x1+7)+' '+(y2-h*0.37)+'L'+(x1+7)+' '+(y2-25)+'L'+(x2-8)+' '+(y2-25)+'L'+(x2-8)+' '+(y2-h*0.37),GR,2.2);
 P('M'+(x1+w*0.54)+' '+(y1+8)+'L'+(x2-33)+' '+(y1+8)+'L'+(x2-33)+' '+(y2-8)+'L'+(x1+w*0.54)+' '+(y2-8),GR,2.2);
 L(x1+10,y2-17,x2-10,y2-17,'#333',0.6);L(x1+40,y1+30,x1+40,y2-12,'#333',0.6);
}
// panel 1 plan
plan(121,173,293,364,[193,242,221,295]);
P('M150 370L150 350L144 342',OL,0.8);
plan(1307,203,1505,431,[1392,287,1422,347]);
P('M1335 434L1335 400',OL,0.8);P('M1524 420L1524 418L1490 418',OL,0.8);
plan(122,1213,329,1460,[211,1301,241,1372]);
plan(1333,1175,1550,1448,[1426,1273,1457,1354]);
// sections
section({x1:521,x2:713,yt:313,yb:377,c1:589,c2:645,ct:201,bl:514,br:719,bb:394,n:5,w:'1900',s:'480',cw:'540',ld:['M659 210L646 210','M659 236L658 236L658 330','M668 266L666 266L666 322','M707 294L706 294L706 312','M722 320L710 370']});
section({x1:92,x2:264,yt:781,yb:841,c1:158,c2:193,ct:679,bl:80,br:277,bb:855,n:3,w:'1700',s:'700',cw:'300',ld:['M208 686L193 686','M214 703L210 703L210 790','M224 719L222 719L222 790','M258 745L256 745L256 790','M270 784L260 835']});
section({x1:1738,x2:1963,yt:302,yb:360,c1:1820,c2:1883,ct:201,bl:1718,br:1983,bb:379,n:6,w:'2250',s:'825',cw:'600',ld:['M1901 203L1876 203','M1901 223L1894 223L1894 322','M1905 244L1902 244L1902 322','M1957 261L1955 261L1955 310','M1672 248L1668 248L1668 300','M1753 415L1916 415L1916 356','M1759 444L1925 444L1925 356']});
section({x1:1323,x2:1519,yt:762,yb:817,c1:1404,c2:1436,ct:657,bl:1307,br:1527,bb:828,n:3,w:'1950',s:'825',cw:'300',ld:['M1458 663L1432 663','M1452 681L1450 681L1450 770','M1463 703L1461 703L1461 770','M1469 729L1540 729L1540 770','M1471 853L1467 853L1467 812','M1465 874L1460 874L1460 812']});
section({x1:501,x2:746,yt:1327,yb:1382,c1:586,c2:660,ct:1217,bl:488,br:766,bb:1402,n:6,w:'2450',s:'875',cw:'700',ld:['M676 1237L656 1237','M676 1254L672 1254L672 1336','M681 1271L680 1271L676 1320','M437 1267L434 1267L434 1300L507 1300L507 1336','M546 1443L700 1377','M695 1443L720 1377']});
section({x1:109,x2:315,yt:1828,yb:1886,c1:195,c2:227,ct:1723,bl:92,br:331,bb:1905,n:3,w:'2050',s:'875',cw:'300',ld:['M240 1729L224 1729','M239 1753L237 1753L237 1836','M45 1775L118 1775L118 1836','M278 1784L300 1784L310 1836','M228 1924L300 1880','M203 1941L290 1880']});
section({x1:1722,x2:1991,yt:1312,yb:1373,c1:1817,c2:1896,ct:1210,bl:1710,br:2003,bb:1388,n:8,w:'2650',s:'925',cw:'800',ld:['M1907 1219L1890 1219','M1929 1236L1926 1236L1926 1322','M1910 1264L1908 1264L1908 1318','M1660 1248L1658 1248L1658 1290L1728 1290L1728 1322','M1877 1409L1900 1367','M1867 1435L1940 1367']});
section({x1:1360,x2:1576,yt:1767,yb:1820,c1:1452,c2:1481,ct:1665,bl:1343,br:1584,bb:1834,n:3,w:'2150',s:'925',cw:'300',ld:['M1498 1673L1477 1673','M1498 1690L1496 1690L1496 1777','M1296 1717L1370 1717L1370 1777','M1512 1717L1570 1717L1570 1777','M1370 1886L1440 1818','M1475 1913L1490 1818']});
// iso views
iso({L:[512,768],T:[647,690],R:[768,760],B:[633,833],h:40,sL:[470,818],sR:[812,817],sB:[633,923]});
iso({L:[1756,771],T:[1876,700],R:[1987,758],B:[1861,829],h:38,sL:[1706,811],sR:[2034,805],sB:[1857,908]});
iso({L:[482,1847],T:[642,1759],R:[778,1837],B:[622,1929],h:42,sL:[428,1895],sR:[835,1885],sB:[618,2014]});
iso({L:[1738,1837],T:[1886,1752],R:[2007,1824],B:[1861,1905],h:40,sL:[1693,1871],sR:[2050,1864],sB:[1859,1980]});
// shapes
diamond([982,199],[1101,315],[982,422],[870,310]);
diamond([2231,192],[2374,334],[2254,457],[2106,317]);
diamond([1029,1201],[1190,1361],[1058,1494],[900,1331]);
diamond([2319,1152],[2458,1290],[2283,1467],[2148,1324]);
stir(844,352,52,22,-50);stir(2362,220,48,20,45);stir(830,1342,50,22,45);stir(2402,1452,50,22,-45);
bar04(1141,217,369,1);bar04(2422,283,433,-1);bar04(1198,1327,1477,-1);bar04(2104,1239,1390,1);
function pl(s){P(s,'#888',1.8);}
pl('M764 423L764 468L919 468L919 423');pl('M1055 423L1055 468L1230 468L1230 423');
pl('M1989 423L1989 452L2170 452');pl('M1973 470L2185 470L2185 423');
pl('M501 1515L730 1515L730 1469');pl('M748 1469L748 1515L941 1515');
pl('M1720 1453L1720 1497L1922 1497');pl('M1963 1497L2215 1497L2215 1453');
document.getElementById('geo').innerHTML=b;
})();
</script>
</body></html>
